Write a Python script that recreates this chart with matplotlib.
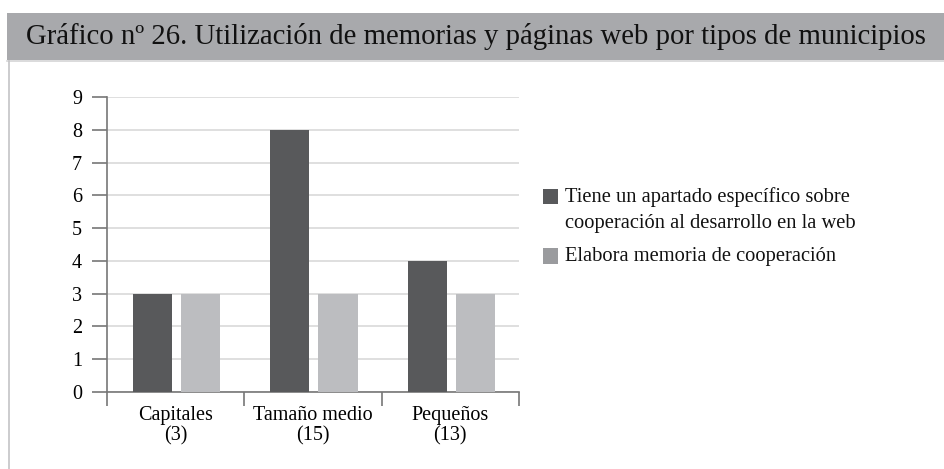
import matplotlib
matplotlib.use("Agg")
import matplotlib.pyplot as plt
from matplotlib.patches import Rectangle
from matplotlib.lines import Line2D
import numpy as np

categories = ["Capitales\n(3)", "Tamaño medio\n(15)", "Pequeños\n(13)"]
apartado_web = [3, 8, 4]
memoria = [3, 3, 3]
series_labels = ["Tiene un apartado específico sobre\ncooperación al desarrollo en la web",
                 "Elabora memoria de cooperación"]
title = "Gráfico nº 26. Utilización de memorias y páginas web por tipos de municipios"

dark = "#58595b"
light = "#bcbdc0"

plt.rcParams["font.family"] = ["Liberation Serif", "DejaVu Serif"]

W, H = 945, 469
fig = plt.figure(figsize=(W / 100, H / 100), dpi=100)

# header band and panel frame
fig.patches.append(Rectangle((7 / W, 1 - 60 / H), 1, 47 / H, transform=fig.transFigure,
                             facecolor="#a8a9ac", edgecolor="none", zorder=0))
fig.lines.append(Line2D([7 / W, 1], [1 - 61 / H, 1 - 61 / H], transform=fig.transFigure,
                        color="#d4d4d6", lw=1.2))
fig.lines.append(Line2D([9.5 / W, 9.5 / W], [0, 1 - 61 / H], transform=fig.transFigure,
                        color="#c4c4c6", lw=1.2))
fig.text(476 / W, 1 - 37 / H, title, ha="center", va="center", fontsize=20.7, color="#111111")

ax = fig.add_axes([107 / W, 1 - 392 / H, 412 / W, 295 / H])
x = np.arange(len(categories))
w = 0.285
ax.bar(x - 0.168, apartado_web, w, color=dark, zorder=3)
ax.bar(x + 0.182, memoria, w, color=light, zorder=3)

ax.set_xlim(-0.5, len(categories) - 0.5)
ax.set_ylim(0, 9)
ax.set_yticks(range(0, 10))
ax.yaxis.grid(True, color="#d9d9d9", lw=1.2, zorder=0)
ax.tick_params(axis="y", length=11, width=1.2, color="#777777", pad=7, labelsize=14.5)

ax.set_xticks(x)
ax.set_xticklabels(categories, fontsize=14.5, linespacing=1.12)
ax.set_xticks(np.arange(-0.5, len(categories)), minor=True)
ax.tick_params(axis="x", which="major", length=0, pad=10)
ax.tick_params(axis="x", which="minor", length=10, width=1.2, color="#777777")

for s in ["top", "right"]:
    ax.spines[s].set_visible(False)
for s in ["left", "bottom"]:
    ax.spines[s].set_color("#777777")
    ax.spines[s].set_linewidth(1.2)

# legend drawn by hand: square aligned with the first line of each entry
legend_colors = [dark, "#9a9b9e"]
entry_y = [197, 256]
for lab, col, yy in zip(series_labels, legend_colors, entry_y):
    fig.patches.append(Rectangle((543 / W, 1 - (yy + 7.5) / H), 15 / W, 15 / H,
                                 transform=fig.transFigure, facecolor=col, edgecolor="none"))
    for i, line in enumerate(lab.split("\n")):
        fig.text(565 / W, 1 - (yy + 26 * i) / H, line, ha="left", va="center",
                 fontsize=14.8, color="#111111")

fig.savefig("out.png", dpi=100)
